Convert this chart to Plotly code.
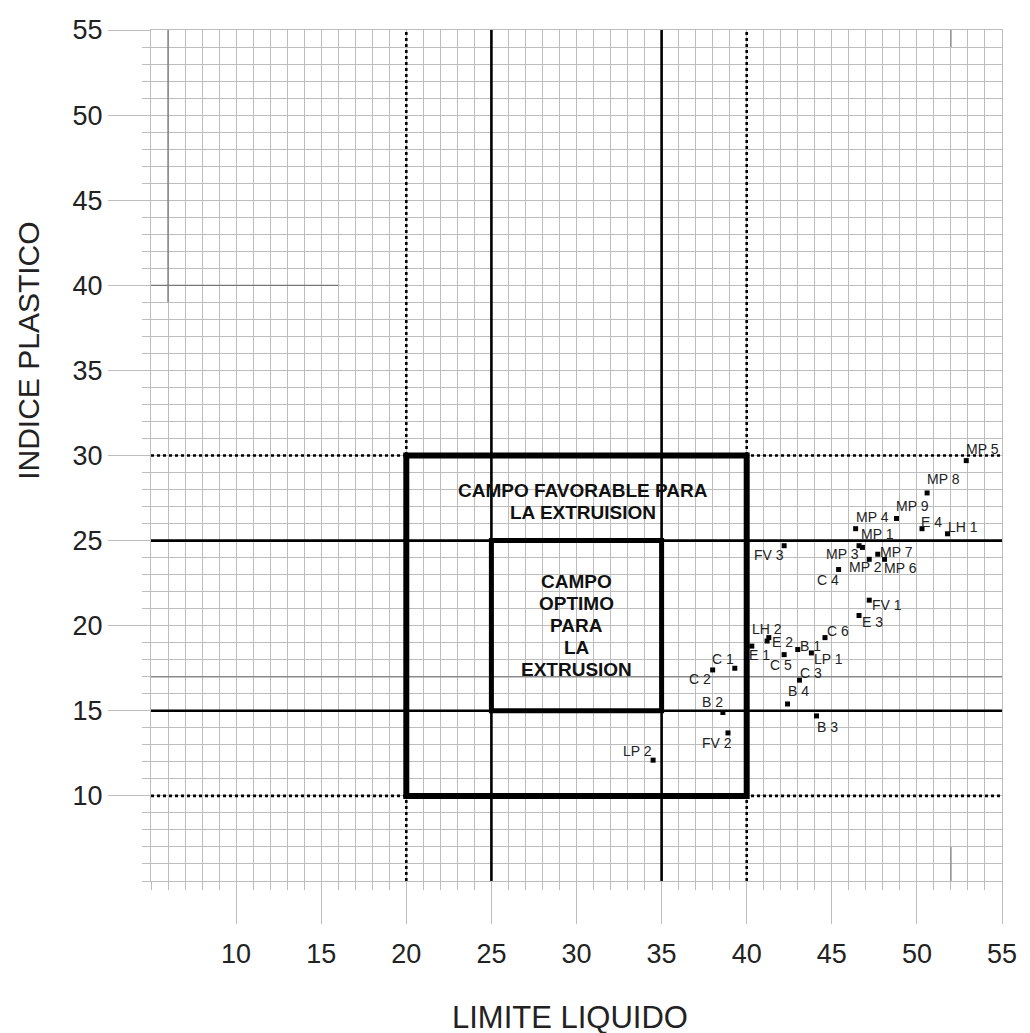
import plotly.graph_objects as go

# ---------------- data ----------------
samples = ["MP 5", "MP 8", "MP 9", "MP 4", "E 4", "LH 1", "MP 1", "MP 3", "MP 7",
           "MP 2", "MP 6", "C 4", "FV 3", "FV 1", "E 3", "C 6", "LH 2", "E 2",
           "B 1", "E 1", "C 5", "LP 1", "C 3", "B 4", "B 3", "C 1", "C 2",
           "B 2", "FV 2", "LP 2"]
limite_liquido = [52.9, 50.6, 48.8, 46.4, 50.3, 51.8, 46.8, 46.6, 47.7,
                  47.2, 48.1, 45.4, 42.2, 47.2, 46.6, 44.6, 41.3, 41.2,
                  43.0, 40.3, 42.2, 43.8, 43.1, 42.4, 44.1, 39.3, 38.0,
                  38.6, 38.9, 34.5]
indice_plastico = [29.7, 27.8, 26.3, 25.7, 25.7, 25.4, 24.6, 24.7, 24.2,
                   23.9, 23.9, 23.3, 24.7, 21.5, 20.6, 19.3, 19.3, 19.1,
                   18.6, 18.8, 18.3, 18.4, 16.8, 15.4, 14.7, 17.5, 17.4,
                   14.9, 13.7, 12.1]

favorable_ll = [20, 40]
favorable_ip = [10, 30]
optimo_ll = [25, 35]
optimo_ip = [15, 25]

favorable_text = ["CAMPO FAVORABLE PARA", "LA EXTRUISION"]
optimo_text = ["CAMPO", "OPTIMO", "PARA", "LA", "EXTRUSION"]

x_range = [5, 55]
y_range = [5, 55]
tick_vals = list(range(5, 56, 5))
tick_text = ["" if v == 5 else str(v) for v in tick_vals]
minor_vals = list(range(5, 56))

# ---------------- styling ----------------
# label offsets in pixels (dx right, dy down) relative to each marker
label_dx = [16, 16, 16, 17, 9, 15, 15, -17, 19, -4, 16, -11, -15, 18, 13, 13, -2, 15,
            13, 8, -3, 17, 12, 11, 11, -12, -13, -10, -11, -16]
label_dy = [-12, -14, -12, -12, -7, -7, -13, 8, -2, 8, 9, 10, 9, 5, 7, -7, -9, 1,
            -4, 9, 10, 6, -7, -13, 11, -9, 9, -11, 10, -9]

FONT = "Liberation Sans, Arial, sans-serif"
GRID = "#bdbdbd"

fig = go.Figure()
fig.add_trace(go.Scatter(
    x=limite_liquido, y=indice_plastico, mode="markers",
    marker=dict(symbol="square", size=5, color="black"),
    cliponaxis=False, showlegend=False, hoverinfo="skip"))

shapes = []
def line(x0, y0, x1, y1, width, dash="solid", color="black"):
    shapes.append(dict(type="line", xref="x", yref="y", x0=x0, y0=y0, x1=x1, y1=y1,
                       line=dict(color=color, width=width, dash=dash), layer="between"))

# faint darker construction lines visible in the reference
line(x_range[0], 17, x_range[1], 17, 1.6, color="#8a8a8a")
line(6, 39, 6, y_range[1], 1.3, color="#777")
line(x_range[0], 40, 16, 40, 1.3, color="#777")
line(52, 54, 52, y_range[1], 1.3, color="#888")
line(52, y_range[0], 52, 7, 1.3, color="#888")

# dotted full-length lines (favorable limits)
for v in favorable_ll:
    line(v, y_range[0], v, y_range[1], 2.6, "dot")
for v in favorable_ip:
    line(x_range[0], v, x_range[1], v, 2.6, "dot")
# solid full-length lines (optimum limits)
for v in optimo_ll:
    line(v, y_range[0], v, y_range[1], 2.6)
for v in optimo_ip:
    line(x_range[0], v, x_range[1], v, 2.6)

# boxes
shapes.append(dict(type="rect", xref="x", yref="y",
                   x0=favorable_ll[0], x1=favorable_ll[1], y0=favorable_ip[0], y1=favorable_ip[1],
                   line=dict(color="black", width=6), layer="between"))
shapes.append(dict(type="rect", xref="x", yref="y",
                   x0=optimo_ll[0], x1=optimo_ll[1], y0=optimo_ip[0], y1=optimo_ip[1],
                   line=dict(color="black", width=5), layer="between"))

annotations = []
# point labels
for name, xv, yv, dx, dy in zip(samples, limite_liquido, indice_plastico, label_dx, label_dy):
    annotations.append(dict(x=xv, y=yv, xref="x", yref="y", text=name, showarrow=False,
                            xanchor="center", yanchor="middle", xshift=dx, yshift=-dy,
                            font=dict(family=FONT, size=14, color="#222")))

# zone captions (one annotation per line for tight line spacing)
LINE_H = 22
def block(lines, cx, cy):
    n = len(lines)
    for i, t in enumerate(lines):
        annotations.append(dict(x=cx, y=cy, xref="x", yref="y", text="<b>%s</b>" % t,
                                showarrow=False, xanchor="center", yanchor="middle",
                                yshift=((n - 1) / 2 - i) * LINE_H,
                                font=dict(family=FONT, size=19, color="#111")))

block(favorable_text, (favorable_ll[0] + favorable_ll[1]) / 2 + 0.4, 27.3)
block(optimo_text, (optimo_ll[0] + optimo_ll[1]) / 2, (optimo_ip[0] + optimo_ip[1]) / 2)

annotations += [
    dict(x=0.492, y=-0.16, xref="paper", yref="paper", showarrow=False,
         xanchor="center", yanchor="middle",
         text="LIMITE LIQUIDO", font=dict(family=FONT, size=31, color="#222")),
    dict(x=-0.1434, y=0.623, xref="paper", yref="paper", showarrow=False, textangle=-90,
         xanchor="center", yanchor="middle", borderpad=0,
         text="INDICE PLASTICO", font=dict(family=FONT, size=30, color="#222")),
]

axis_common = dict(
    tickmode="array", tickvals=tick_vals, ticktext=tick_text,
    ticks="outside", ticklen=42, tickwidth=1, tickcolor=GRID,
    showgrid=True, gridcolor=GRID, gridwidth=1,
    minor=dict(tickmode="array", tickvals=minor_vals, ticks="outside", ticklen=8,
               tickwidth=1, tickcolor=GRID, showgrid=True, gridcolor=GRID, gridwidth=1),
    zeroline=False, showline=True, mirror=True, linecolor=GRID, linewidth=1,
    tickfont=dict(family=FONT, size=27, color="#222"),
    fixedrange=True, automargin=False,
)

fig.update_layout(
    width=1030, height=1033,
    margin=dict(l=143, r=36, t=22, b=160),
    paper_bgcolor="white", plot_bgcolor="white",
    xaxis=dict(range=x_range, ticklabelstandoff=7, **axis_common),
    yaxis=dict(range=y_range, ticklabelstandoff=0, **axis_common),
    shapes=shapes, annotations=annotations,
)

fig.write_html("out.html")
